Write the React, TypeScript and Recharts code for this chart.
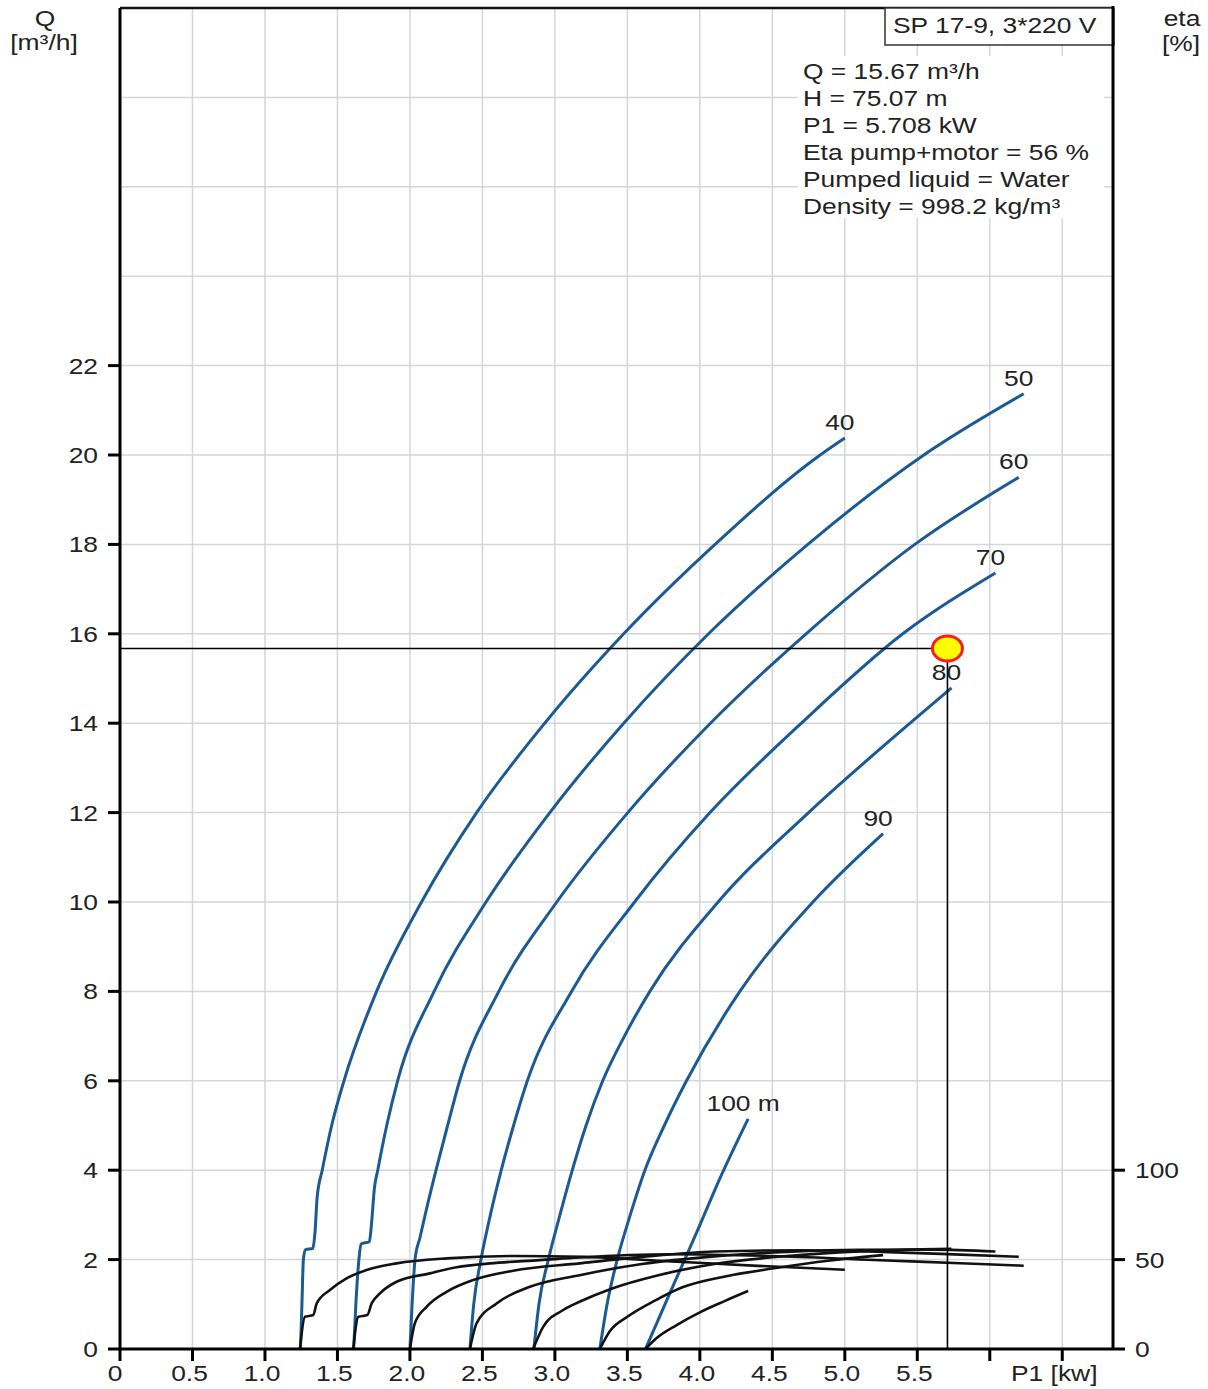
import React from 'react';
import { ComposedChart, Line, Scatter, XAxis, YAxis, CartesianGrid, ReferenceLine } from 'recharts';

const FONT = "'Liberation Sans', Arial, Helvetica, sans-serif";
const STRETCH = 1.2;
const TEXT_COLOR = '#222';
const BLUE = '#1b5a92';
const BLACK = '#111';

// ---- axes ----
const X_TICKS = [0, 0.5, 1, 1.5, 2, 2.5, 3, 3.5, 4, 4.5, 5, 5.5, 6, 6.5];
const X_LABELS = ['0', '0.5', '1.0', '1.5', '2.0', '2.5', '3.0', '3.5', '4.0', '4.5', '5.0', '5.5', '', 'P1 [kw]'];
const Q_TICKS = [0, 2, 4, 6, 8, 10, 12, 14, 16, 18, 20, 22];
const ETA_TICKS = [0, 50, 100];
const GRID_Q = [2, 4, 6, 8, 10, 12, 14, 16, 18, 20, 22, 24, 26, 28];
const GRID_P = [0.5, 1, 1.5, 2, 2.5, 3, 3.5, 4, 4.5, 5, 5.5, 6, 6.5];

// ---- Q curves (P1 [kW] -> Q [m3/h]) per head ----
const HEAD_LABELS = ['40', '50', '60', '70', '80', '90', '100 m'];

const P1_40 = [1.245, 1.255, 1.265, 1.28, 1.33, 1.345, 1.36, 1.395, 1.46, 1.545, 1.77, 2.08, 2.46, 2.93, 3.475, 4.105, 4.83, 5.0];
const Q_40 = [0, 1, 2, 2.22, 2.25, 2.6, 3.4, 4, 5, 6, 8, 10, 12, 14, 16, 18, 20, 20.38];

const P1_50 = [1.612, 1.627, 1.648, 1.663, 1.72, 1.735, 1.755, 1.778, 1.84, 1.915, 2.167, 2.525, 2.965, 3.475, 4.06, 4.745, 5.545, 6.234];
const Q_50 = [0, 1, 2, 2.35, 2.4, 2.8, 3.6, 4, 5, 6, 8, 10, 12, 14, 16, 18, 20, 21.37];

const P1_60 = [2.0, 2.015, 2.035, 2.07, 2.105, 2.18, 2.26, 2.343, 2.613, 3.013, 3.503, 4.073, 4.733, 5.483, 6.2];
const Q_60 = [0, 1, 2, 2.5, 3, 4, 5, 6, 8, 10, 12, 14, 16, 18, 19.5];

const P1_70 = [2.414, 2.44, 2.49, 2.555, 2.63, 2.715, 2.81, 3.115, 3.55, 4.07, 4.7, 5.4, 6.039];
const Q_70 = [0, 1, 2, 3, 4, 5, 6, 8, 10, 12, 14, 16, 17.36];

const P1_80 = [2.855, 2.89, 2.955, 3.035, 3.12, 3.215, 3.33, 3.48, 3.655, 4.126, 4.75, 5.45, 5.736];
const Q_80 = [0, 1, 2, 3, 4, 5, 6, 7, 8, 10, 12, 14, 14.79];

const P1_90 = [3.31, 3.36, 3.43, 3.52, 3.621, 3.755, 3.908, 4.276, 4.78, 5.264];
const Q_90 = [0, 1, 2, 3, 4, 5, 6, 8, 10, 11.53];

const P1_100 = [3.625, 3.8, 3.985, 4.15, 4.333];
const Q_100 = [0, 1.3, 2.66, 3.9, 5.15];

// ---- eta curves (P1 [kW] -> eta [%]) per head ----
const EP1_40 = [1.241, 1.276, 1.333, 1.357, 1.448, 1.563, 1.701, 1.908, 2.253, 2.71, 3.2, 3.8, 4.4, 5.0];
const ETA_40 = [0, 18, 19, 25.5, 33, 39.5, 44.2, 47.9, 50.7, 52.0, 51.5, 49.0, 46.5, 44.3];

const EP1_50 = [1.609, 1.644, 1.706, 1.736, 1.793, 1.908, 2.138, 2.322, 2.552, 2.897, 3.17, 3.8, 4.5, 5.2, 5.8, 6.234];
const ETA_50 = [0, 18, 19, 25.5, 31.1, 37.6, 42.3, 45.7, 47.9, 49.7, 51.2, 53.0, 52.0, 49.8, 48.0, 46.6];

const EP1_60 = [2.0, 2.034, 2.115, 2.253, 2.437, 2.712, 3.17, 3.6, 4.1, 4.7, 5.3, 5.8, 6.2];
const ETA_60 = [0, 14.4, 23.6, 32, 38.6, 43.8, 47.9, 51.5, 54.5, 55.2, 54.2, 52.8, 51.6];

const EP1_70 = [2.414, 2.46, 2.598, 2.828, 3.17, 3.6, 4.1, 4.6, 5.1, 5.6, 6.039];
const ETA_70 = [0, 14.4, 25.5, 34.8, 41.3, 47.5, 51.8, 54.3, 55.5, 55.6, 54.5];

const EP1_80 = [2.85, 2.92, 3.057, 3.17, 3.4, 3.7, 4.1, 4.6, 5.1, 5.736];
const ETA_80 = [0, 12.5, 21.8, 26.4, 34.0, 41.0, 47.5, 52.0, 54.6, 56.0];

const EP1_90 = [3.31, 3.38, 3.5, 3.7, 3.88, 4.2, 4.5, 4.9, 5.264];
const ETA_90 = [0, 10, 18, 27.5, 34.5, 41.0, 45.0, 49.5, 52.5];

const EP1_100 = [3.625, 3.7, 3.84, 4.0, 4.17, 4.333];
const ETA_100 = [0, 6, 13.4, 20.5, 26.8, 32.5];

// ---- operating point ----
const OP_P1 = 5.708;
const OP_Q = 15.67;

const INFO_TITLE = 'SP 17-9, 3*220 V';
const INFO_LINES = [
  'Q = 15.67 m³/h',
  'H = 75.07 m',
  'P1 = 5.708 kW',
  'Eta pump+motor = 56 %',
  'Pumped liquid = Water',
  'Density = 998.2 kg/m³',
];

const buildQ = (p: number[], q: number[]) => p.map((v, i) => ({ p: v, q: q[i] }));
const buildE = (p: number[], e: number[]) => p.map((v, i) => ({ p: v, e: e[i] }));

const Q_CURVES = [
  buildQ(P1_40, Q_40),
  buildQ(P1_50, Q_50),
  buildQ(P1_60, Q_60),
  buildQ(P1_70, Q_70),
  buildQ(P1_80, Q_80),
  buildQ(P1_90, Q_90),
  buildQ(P1_100, Q_100),
];
const ETA_CURVES = [
  buildE(EP1_40, ETA_40),
  buildE(EP1_50, ETA_50),
  buildE(EP1_60, ETA_60),
  buildE(EP1_70, ETA_70),
  buildE(EP1_80, ETA_80),
  buildE(EP1_90, ETA_90),
  buildE(EP1_100, ETA_100),
];

const OP_ROWS = [{ p: OP_P1, q: OP_Q }];
const CROSS_H = [{ p: 0, q: OP_Q }, { p: OP_P1, q: OP_Q }];
const CROSS_V = [{ p: OP_P1, q: OP_Q }, { p: OP_P1, q: 0 }];

const txt = (x: number, y: number, s: string, anchor: 'start' | 'middle' | 'end' = 'start', dy?: string) => (
  <text
    transform={`translate(${x},${y}) scale(${STRETCH},1)`}
    textAnchor={anchor}
    dy={dy}
    fontFamily={FONT}
    fontSize={22}
    fill={TEXT_COLOR}
  >
    {s}
  </text>
);

const XTick = (props: any) => {
  const { x, y, payload } = props;
  const idx = X_TICKS.indexOf(payload.value);
  const label = idx >= 0 ? X_LABELS[idx] : '';
  const dx = label === 'P1 [kw]' ? -8 : payload.value === 0 ? -5 : -3;
  return <g>{txt(x + dx, y, label, 'middle', '0.72em')}</g>;
};

const LeftTick = (props: any) => {
  const { x, y, payload } = props;
  return <g>{txt(x, y, String(payload.value), 'end', '0.36em')}</g>;
};

const RightTick = (props: any) => {
  const { x, y, payload } = props;
  return <g>{txt(x, y, String(payload.value), 'start', '0.36em')}</g>;
};

const makeEndLabel = (label: string, n: number) => (props: any) => {
  const { x, y, index } = props;
  if (index !== n - 1) return <g />;
  return <g>{txt(x - 5, y - 8, label, 'middle')}</g>;
};

const OpShape = (props: any) => {
  const { cx, cy } = props;
  return <ellipse cx={cx} cy={cy} rx={15} ry={12.5} fill="#ffff00" stroke="#ff1a1a" strokeWidth={3} />;
};

export default function App() {
  return (
    <div style={{ position: 'absolute', left: 0, top: 0, width: 1208, height: 1389, background: '#fff' }}>
      <ComposedChart width={1208} height={1389} margin={{ top: 8, right: 35, bottom: 10, left: 60 }}>
        <CartesianGrid
          stroke="#d3d7db"
          strokeWidth={1.5}
          horizontalValues={GRID_Q}
          verticalValues={GRID_P}
        />
        <XAxis
          type="number"
          dataKey="p"
          domain={[0, 6.85]}
          ticks={X_TICKS}
          interval={0}
          allowDataOverflow
          height={30}
          tickSize={12}
          tickMargin={4}
          axisLine={{ stroke: '#000', strokeWidth: 3 }}
          tickLine={{ stroke: '#000', strokeWidth: 3 }}
          tick={<XTick />}
        />
        <YAxis
          type="number"
          domain={[0, 30]}
          ticks={Q_TICKS}
          interval={0}
          allowDataOverflow
          width={60}
          tickSize={12}
          tickMargin={10}
          axisLine={{ stroke: '#000', strokeWidth: 3 }}
          tickLine={{ stroke: '#000', strokeWidth: 3 }}
          tick={<LeftTick />}
        />
        <YAxis
          yAxisId="right"
          orientation="right"
          type="number"
          domain={[0, 750]}
          ticks={ETA_TICKS}
          interval={0}
          allowDataOverflow
          width={60}
          tickSize={12}
          tickMargin={10}
          axisLine={{ stroke: '#000', strokeWidth: 3 }}
          tickLine={{ stroke: '#000', strokeWidth: 3 }}
          tick={<RightTick />}
        />
        <ReferenceLine y={30} stroke="#111" strokeWidth={2.5} />

        {Q_CURVES.map((rows, i) => (
          <Line
            key={'q' + i}
            data={rows}
            dataKey="q"
            type="monotone"
            stroke={BLUE}
            strokeWidth={3}
            dot={false}
            activeDot={false}
            isAnimationActive={false}
            label={makeEndLabel(HEAD_LABELS[i], rows.length)}
          />
        ))}
        {ETA_CURVES.map((rows, i) => (
          <Line
            key={'e' + i}
            data={rows}
            dataKey="e"
            yAxisId="right"
            type="monotone"
            stroke={BLACK}
            strokeWidth={2.6}
            dot={false}
            activeDot={false}
            isAnimationActive={false}
          />
        ))}
        <Scatter data={OP_ROWS} dataKey="q" shape={<OpShape />} isAnimationActive={false} />
        <Line data={CROSS_H} dataKey="q" type="linear" stroke="#000" strokeWidth={1.6} dot={false} activeDot={false} isAnimationActive={false} />
        <Line data={CROSS_V} dataKey="q" type="linear" stroke="#000" strokeWidth={1.6} dot={false} activeDot={false} isAnimationActive={false} />
      </ComposedChart>

      <svg
        width={1208}
        height={1389}
        style={{ position: 'absolute', left: 0, top: 0, pointerEvents: 'none' }}
      >
        {txt(45, 26, 'Q', 'middle')}
        {txt(44, 50, '[m³/h]', 'middle')}
        {txt(1182, 26, 'eta', 'middle')}
        {txt(1181, 51, '[%]', 'middle')}
        <rect x={798} y={56} width={306} height={162} fill="#fff" />
        <rect x={885} y={8} width={228} height={37} fill="#fff" stroke="#333" strokeWidth={1.5} />
        <line x1={1113} y1={6} x2={1113} y2={46} stroke="#000" strokeWidth={3} />
        {txt(893, 33, INFO_TITLE)}
        {INFO_LINES.map((s, i) => (
          <g key={i}>{txt(803, 79 + i * 27, s)}</g>
        ))}
      </svg>
    </div>
  );
}
